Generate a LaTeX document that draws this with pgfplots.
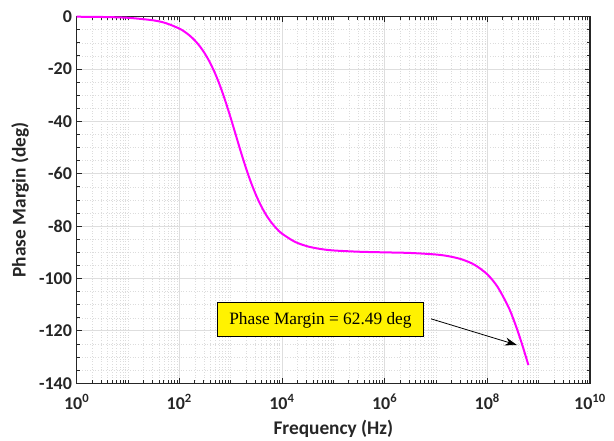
\documentclass[border=0pt]{standalone}
\usepackage{fontspec}
\setmainfont{Liberation Serif}
\setsansfont{Carlito}
\usepackage{pgfplots}
\pgfplotsset{compat=1.18}
\usetikzlibrary{arrows.meta}
\definecolor{gridmaj}{RGB}{222,222,222}
\definecolor{gridmin}{RGB}{220,220,220}
\definecolor{axcol}{RGB}{38,38,38}
\begin{document}
\begin{tikzpicture}
\useasboundingbox (-57.5pt,-43.3pt) rectangle ++(460.5pt,330.75pt);
\begin{axis}[
  scale only axis,
  width=385pt, height=275pt,
  xmode=log,
  xmin=1, xmax=1e10,
  ymin=-140, ymax=0,
  axis line style={axcol, line width=0.8pt},
  tick style={axcol, line width=0.6pt},
  major tick length=4pt,
  minor tick length=2.5pt,
  tick align=inside,
  xtick={1,1e2,1e4,1e6,1e8,1e10},
  xticklabels={10\textsuperscript{0},10\textsuperscript{2},10\textsuperscript{4},10\textsuperscript{6},10\textsuperscript{8},10\textsuperscript{10}},
  minor xtick={2,3,4,5,6,7,8,9,10,20,30,40,50,60,70,80,90,200,300,400,500,600,700,800,900,1000,2e3,3e3,4e3,5e3,6e3,7e3,8e3,9e3,2e4,3e4,4e4,5e4,6e4,7e4,8e4,9e4,1e5,2e5,3e5,4e5,5e5,6e5,7e5,8e5,9e5,2e6,3e6,4e6,5e6,6e6,7e6,8e6,9e6,1e7,2e7,3e7,4e7,5e7,6e7,7e7,8e7,9e7,2e8,3e8,4e8,5e8,6e8,7e8,8e8,9e8,1e9,2e9,3e9,4e9,5e9,6e9,7e9,8e9,9e9},
  ytick={-140,-120,-100,-80,-60,-40,-20,0},
  yticklabels={-140,-120,-100,-80,-60,-40,-20,0},
  minor ytick={-135,-130,-125,-115,-110,-105,-95,-90,-85,-75,-70,-65,-55,-50,-45,-35,-30,-25,-15,-10,-5},
  grid=both,
  major grid style={gridmaj, line width=0.6pt},
  minor grid style={gridmin, dash pattern=on 0.5pt off 1.5pt, line width=0.4pt},
  ticklabel style={font=\sffamily\bfseries\fontsize{13.5}{15}\selectfont, text=axcol},
  xticklabel style={yshift=-4.5pt},
  label style={font=\sffamily\bfseries\fontsize{14.5}{17}\selectfont, text=axcol},
  xlabel={Frequency (Hz)},
  ylabel={Phase Margin (deg)},
  xlabel style={at={(axis description cs:0.5,-0.123)}, anchor=center},
  ylabel style={at={(axis description cs:-0.110,0.5)}, anchor=center},
  clip=false,
]
\addplot[color={rgb,255:red,255;green,0;blue,255}, line width=1.5pt, smooth] coordinates {
(1,-0.05) (3.162,-0.15) (10,-0.46) (31.62,-1.45) (56.23,-2.58) (100,-4.57)
(125.9,-5.75) (158.5,-7.23) (199.5,-9.07) (251.2,-11.36) (316.2,-14.20)
(398.1,-17.67) (501.2,-21.85) (631,-26.78) (794.3,-32.44) (1000,-38.66)
(1259,-45.2) (1585,-51.74) (1995,-57.93) (2512,-63.54) (3162,-68.43)
(3981,-72.57) (5012,-76.0) (6310,-78.79) (7943,-81.06) (1e4,-82.87)
(1.778e4,-85.98) (3.162e4,-87.74) (5.623e4,-88.73) (1e5,-89.29)
(3.162e5,-89.78) (1e6,-90.02) (3.162e6,-90.25) (1e7,-90.84)
(1.778e7,-91.51) (3.162e7,-92.68) (5.623e7,-94.76) (1e8,-98.43)
(1.585e8,-103.22) (2.512e8,-110.41) (3.162e8,-115.10) (3.981e8,-120.53)
(5.012e8,-126.59) (6.31e8,-133.07)
};
\draw[black, line width=0.6pt, -{Stealth[length=9pt, width=6pt]}] (axis cs:8.0e6,-115.4) -- (axis cs:3.78e8,-125.4);
\node[draw=black, line width=0.8pt, fill=yellow, minimum width=155pt, minimum height=25.5pt, inner sep=2pt, font=\fontsize{13}{15}\selectfont] at (axis cs:5.6e4,-115.8) {Phase Margin = 62.49 deg};
\end{axis}
\end{tikzpicture}
\end{document}
